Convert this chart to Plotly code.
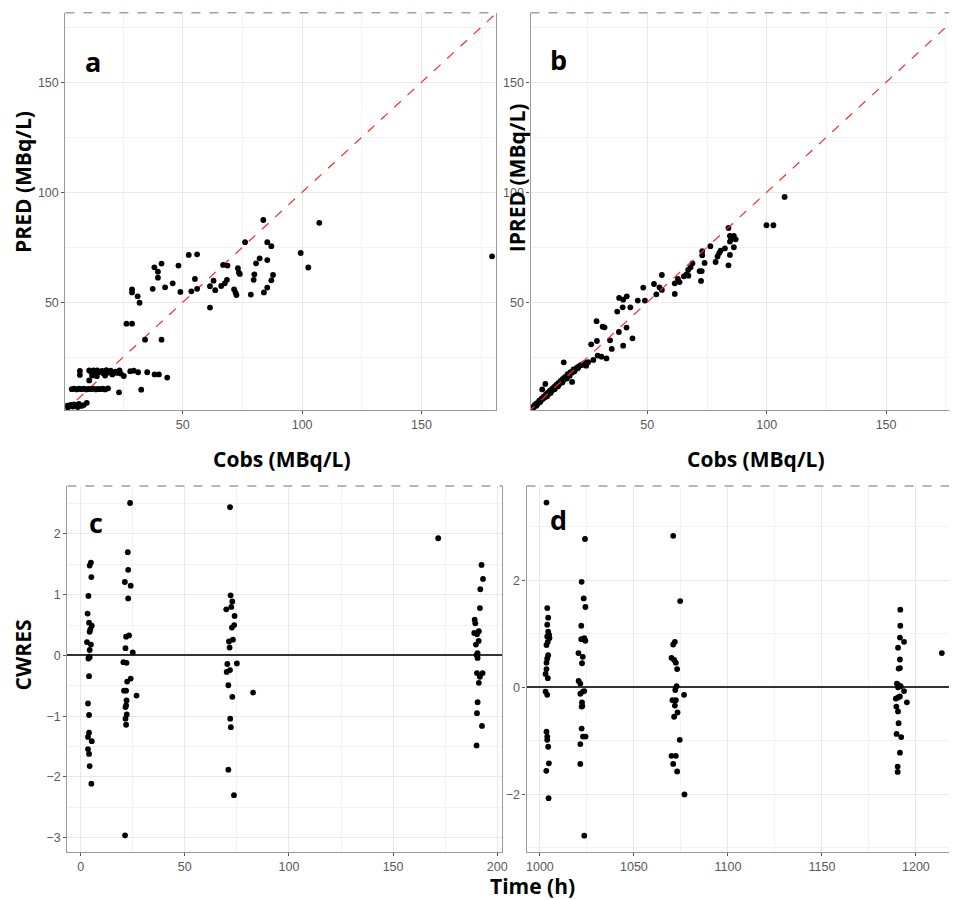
import plotly.graph_objects as go

# ---------------- data ----------------
# Panel a: observed vs population predicted
a_cobs = [83.75, 107.2, 76.1, 85.4, 87.1, 99.4, 52.5, 56.0, 82.2, 85.4, 80.7, 41.1, 38.1, 48.2,
          66.9, 68.75, 102.6, 73.1, 39.6, 73.5, 73.9, 39.6, 80.0, 87.8, 55.1, 62.9, 68.5, 79.7,
          87.1, 67.6, 45.8, 42.6, 66.1, 61.4, 37.4, 56.0, 63.6, 28.75, 28.75, 85.4, 71.5, 53.6,
          49.0, 72.1, 72.5, 78.5, 84.0, 31.1, 31.9, 61.4, 26.4, 28.75, 34.2, 41.1, 179.6,
          6.9, 6.9, 10.8, 11.5, 12.6, 13.2, 14.2, 15.0, 16.2, 16.8, 18.0, 18.5, 19.8, 20.5,
          21.8, 22.5, 23.5, 24.0, 25.3, 28.0, 29.5, 31.3, 35.1, 38.2, 40.0, 43.5, 12.0, 14.0,
          17.5, 10.8, 23.3, 32.6,
          3.5, 4.5, 5.5, 6.5, 7.5, 8.5, 9.5, 10.5, 11.5, 12.5, 13.5, 14.5, 15.5, 16.5, 17.5, 18.7,
          0.9, 1.5, 2.2, 3.0, 3.8, 4.5, 5.5, 6.5, 7.5, 8.5, 9.8, 2.0, 4.0, 6.0]
a_pred = [87.4, 86.1, 77.3, 77.3, 75.5, 72.4, 71.5, 71.8, 70.0, 69.2, 67.7, 67.6, 65.9, 66.7,
          67.0, 66.7, 65.8, 65.5, 63.9, 63.5, 62.9, 61.2, 62.7, 62.4, 60.6, 59.8, 60.2, 60.2,
          60.0, 58.6, 58.6, 56.8, 57.4, 57.3, 56.1, 56.1, 55.5, 55.8, 54.5, 56.7, 55.9, 55.0,
          54.7, 54.4, 53.3, 53.5, 54.5, 52.7, 49.8, 47.6, 40.3, 40.3, 33.0, 33.0, 70.9,
          18.8, 17.0, 19.0, 18.5, 19.0, 17.8, 19.0, 18.2, 18.8, 17.6, 19.2, 18.0, 18.9, 17.2,
          18.5, 17.9, 19.0, 17.6, 16.5, 18.7, 18.9, 18.2, 18.2, 17.2, 17.2, 15.8, 16.7, 16.4,
          16.7, 14.5, 9.1, 10.3,
          10.5, 10.8, 10.4, 10.7, 10.5, 10.8, 10.4, 10.6, 10.5, 10.8, 10.4, 10.6, 10.5, 10.7, 10.4, 10.9,
          2.6, 3.0, 2.7, 3.4, 3.0, 3.6, 3.1, 3.8, 2.9, 3.3, 4.3, 2.3, 2.6, 2.4]

# Panel b: observed vs individual predicted
b_cobs = [107.5, 99.9, 102.8, 84.0, 76.4, 73.0, 84.6, 86.25, 85.1, 87.0, 84.6, 86.25, 84.6, 84.0,
          82.5, 80.7, 80.1, 79.4, 78.6, 74.0, 73.0, 68.9, 68.1, 67.1, 66.3, 67.2, 65.3, 71.9,
          72.8, 72.5, 62.8, 63.5, 61.5, 61.5, 56.1, 55.1, 56.1, 52.8, 53.8, 48.3, 49.0, 46.0,
          38.2, 39.9, 41.4, 39.7, 42.9, 37.4, 38.1, 41.3, 39.9, 43.8, 28.75, 31.3, 32.1, 26.5,
          28.9, 34.4, 35.1, 27.4, 29.2, 30.8, 32.9, 15.0, 7.3, 18.5, 24.4, 6.0,
          1.2, 1.8, 2.3, 2.8, 3.2, 3.6, 4.0, 4.5, 4.9, 5.3, 5.8, 6.2, 6.6, 7.0, 7.5, 7.9, 8.3,
          8.8, 9.2, 9.6, 10.1, 10.5, 11.0, 11.4, 11.9, 12.3, 12.8, 13.2, 13.7, 14.1, 14.6, 15.1,
          15.5, 16.0, 16.6, 17.2, 17.8, 18.4, 19.1, 19.8, 20.5, 21.3, 22.1, 23.0, 24.0, 25.2,
          3.5, 5.0, 8.0, 9.5, 11.2, 12.6, 14.4, 16.3, 17.5, 19.4, 21.0, 22.6]
b_ipred = [97.9, 85.0, 85.0, 83.8, 75.5, 73.2, 80.2, 80.2, 78.6, 78.6, 77.6, 75.0, 71.5, 66.8,
           74.5, 73.5, 72.3, 70.8, 68.3, 67.9, 71.4, 67.7, 65.9, 64.7, 62.6, 62.1, 61.8, 64.2,
           64.2, 59.7, 60.6, 59.2, 58.6, 53.8, 62.4, 56.8, 55.6, 58.3, 53.6, 56.7, 50.8, 50.8,
           52.0, 51.2, 52.7, 47.7, 47.7, 45.8, 36.5, 38.5, 30.3, 33.6, 41.4, 38.9, 38.6, 30.9,
           32.4, 32.7, 28.8, 23.8, 25.8, 25.3, 24.5, 22.7, 12.9, 13.8, 21.2, 10.4,
           1.5, 2.2, 2.0, 3.3, 3.0, 4.1, 3.8, 4.9, 5.4, 5.0, 6.3, 6.0, 7.1, 6.7, 8.0, 7.6, 8.9,
           8.4, 9.8, 9.3, 10.6, 10.2, 11.5, 11.2, 12.5, 12.0, 13.4, 12.9, 14.3, 13.8, 15.2, 14.8,
           16.0, 15.7, 17.3, 16.9, 18.3, 18.0, 19.5, 19.2, 20.3, 20.9, 21.4, 21.9, 22.4, 22.8,
           3.0, 4.6, 7.3, 8.8, 10.5, 11.8, 13.6, 15.4, 16.6, 18.6, 20.1, 21.5]

# Panel c: CWRES vs time after first dose
c_time = [4.9, 4.3, 5.1, 3.7, 3.3, 4.0, 5.3, 4.6, 4.3, 3.0, 4.9, 4.3, 4.0, 3.7, 4.3, 4.0, 3.5,
          4.0, 4.0, 3.5, 5.3, 3.5, 4.0, 4.3, 5.1,
          23.7, 22.6, 22.8, 21.2, 24.0, 22.8, 21.8, 23.2, 21.5, 25.0, 20.5, 22.0, 24.0, 22.3,
          21.8, 20.8, 26.8, 22.0, 21.8, 21.5, 22.1, 21.5, 21.8, 21.3,
          71.7, 72.0, 72.8, 72.3, 69.9, 73.9, 73.7, 72.6, 73.1, 71.2, 71.5, 70.4, 75.0, 71.7,
          70.1, 70.9, 72.8, 71.8, 72.1, 70.9, 73.6, 82.8, 171.7,
          192.5, 193.2, 191.9, 191.7, 189.2, 189.5, 191.2, 189.0, 190.3, 191.1, 189.8, 190.6,
          190.1, 190.6, 190.3, 193.0, 191.7, 191.2, 190.6, 190.3, 192.7, 190.1]
c_cwres = [1.53, 1.48, 1.29, 0.98, 0.69, 0.54, 0.49, 0.43, 0.39, 0.22, 0.18, 0.09, -0.02, -0.05,
           -0.03, -0.34, -0.79, -0.98, -1.27, -1.34, -1.41, -1.54, -1.62, -1.82, -2.11,
           2.51, 1.70, 1.41, 1.21, 1.15, 0.94, 0.31, 0.33, 0.12, 0.05, -0.11, -0.12, -0.38, -0.43,
           -0.58, -0.58, -0.66, -0.74, -0.82, -0.85, -0.97, -1.04, -1.14, -2.96,
           2.44, 0.99, 0.89, 0.80, 0.76, 0.65, 0.50, 0.46, 0.26, 0.23, 0.13, -0.14, -0.13, -0.24,
           -0.27, -0.49, -0.68, -1.04, -1.18, -1.88, -2.30, -0.61, 1.93,
           1.49, 1.26, 1.09, 0.78, 0.59, 0.53, 0.40, 0.37, 0.35, 0.24, 0.18, 0.04,
           0.01, -0.04, -0.29, -0.29, -0.35, -0.45, -0.77, -0.95, -1.16, -1.48]

# Panel d: CWRES vs time after later dose
d_time = [1003.5, 1003.9, 1004.4, 1003.9, 1004.4, 1004.9, 1003.9, 1005.1, 1004.2, 1003.5, 1004.4,
          1003.9, 1003.5, 1003.5, 1003.0, 1004.2, 1003.0, 1003.9, 1003.5, 1003.9, 1003.9, 1004.4,
          1004.8, 1003.4, 1004.6,
          1024.0, 1022.2, 1023.3, 1024.2, 1022.0, 1022.0, 1023.6, 1024.2, 1020.5, 1022.8, 1022.4,
          1020.6, 1021.5, 1022.9, 1021.5, 1023.6, 1022.4, 1022.2, 1022.6, 1022.2, 1022.9, 1024.3,
          1021.5, 1021.5, 1023.6,
          1070.9, 1074.6, 1071.8, 1070.9, 1070.0, 1071.4, 1072.3, 1073.0, 1072.7, 1072.0, 1076.7,
          1070.5, 1072.3, 1071.8, 1073.2, 1071.4, 1074.4, 1070.0, 1072.3, 1070.9, 1073.0, 1076.9,
          1191.7, 1191.7, 1191.5, 1193.7, 1190.5, 1191.5, 1190.8, 1191.5, 1189.9, 1190.8, 1191.9,
          1190.5, 1193.7, 1191.5, 1189.3, 1190.5, 1195.2, 1189.6, 1190.5, 1190.8, 1189.7, 1192.2,
          1191.5, 1190.3, 1190.3, 1213.8]
d_cwres = [3.45, 1.48, 1.30, 1.17, 1.04, 0.98, 0.95, 0.92, 0.85, 0.79, 0.60, 0.54, 0.46, 0.34,
           0.25, 0.17, -0.08, -0.14, -0.83, -0.92, -0.98, -1.11, -1.42, -1.56, -2.07,
           2.77, 1.97, 1.66, 1.50, 1.15, 0.90, 0.92, 0.87, 0.64, 0.57, 0.45, 0.12, 0.07, -0.08,
           -0.12, -0.07, -0.28, -0.36, -0.35, -0.77, -0.92, -0.92, -1.06, -1.43, -2.77,
           2.83, 1.61, 0.85, 0.80, 0.55, 0.51, 0.46, 0.34, 0.02, -0.05, -0.14, -0.24, -0.24, -0.34,
           -0.47, -0.55, -0.98, -1.28, -1.28, -1.43, -1.57, -2.00,
           1.45, 1.15, 0.93, 0.85, 0.74, 0.52, 0.35, 0.36, 0.07, 0.04, 0.02, 0.00, -0.07, -0.17,
           -0.21, -0.19, -0.28, -0.36, -0.45, -0.67, -0.87, -0.93, -1.22, -1.48, -1.58, 0.64]

identity = [0, 200]

# ---------------- figure ----------------
# page body has an 8px default margin: size the figure to fit the 957x900 window
OFF = 8
W, H = 957 - OFF, 900 - OFF
def px(x):
    return (x - OFF) / W
def py(y):
    return 1 - (y - OFF) / H

fig = go.Figure()
mk = dict(color="black", size=5.8)
fig.add_trace(go.Scatter(x=identity, y=identity, mode="lines", xaxis="x", yaxis="y",
                         line=dict(color="#ff2a2a", width=1.2, dash="dash"), hoverinfo="skip"))
fig.add_trace(go.Scatter(x=a_cobs, y=a_pred, mode="markers", marker=mk, xaxis="x", yaxis="y"))
fig.add_trace(go.Scatter(x=b_cobs, y=b_ipred, mode="markers", marker=mk, xaxis="x2", yaxis="y2"))
fig.add_trace(go.Scatter(x=identity, y=identity, mode="lines", xaxis="x2", yaxis="y2",
                         line=dict(color="#ff2a2a", width=1.2, dash="dash"), hoverinfo="skip"))
fig.add_trace(go.Scatter(x=c_time, y=c_cwres, mode="markers", marker=mk, xaxis="x3", yaxis="y3"))
fig.add_trace(go.Scatter(x=d_time, y=d_cwres, mode="markers", marker=mk, xaxis="x4", yaxis="y4"))

tickfont = dict(family="Liberation Sans, Arial, sans-serif", size=12.5, color="#595959")
def ax(domain, rng, tickvals, anchor, minor_dtick, tick0=0, zeroline=False):
    return dict(domain=domain, range=rng, tickvals=tickvals, anchor=anchor,
                showgrid=True, gridcolor="#e8e8e8", gridwidth=1.1,
                zeroline=zeroline, zerolinecolor="#333333", zerolinewidth=1.6,
                showline=True, linecolor="#9a9a9a", linewidth=1.2,
                ticks="outside", ticklen=3, tickcolor="#555555", tickwidth=1,
                tickfont=tickfont,
                minor=dict(dtick=minor_dtick, tick0=tick0, showgrid=True,
                           gridcolor="#f2f2f2", gridwidth=0.7, ticks=""))

xa = [px(65.7), px(499)]
ya = [py(410), py(12.7)]
xb = [px(533.3), 1.0]
xc = [px(67.7), px(505)]
yc = [py(851.7), py(486)]
xd = [px(529.3), 1.0]

fig.update_layout(
    width=W, height=H, margin=dict(l=0, r=0, t=0, b=0),
    paper_bgcolor="white", plot_bgcolor="white", showlegend=False,
    xaxis=ax(xa, [0.83, 181.4], [50, 100, 150], "y", 25),
    yaxis=dict(ax(ya, [1.05, 181.6], [50, 100, 150], "x", 25), mirror=True),
    xaxis2=ax(xb, [1.1, 177.6], [50, 100, 150], "y2", 25),
    yaxis2=dict(ax(ya, [1.05, 181.6], [50, 100, 150], "x2", 25), mirror=True),
    xaxis3=ax(xc, [-6.4, 202.5], [0, 50, 100, 150, 200], "y3", 25),
    yaxis3=dict(ax(yc, [-3.23, 2.79], [-3, -2, -1, 0, 1, 2], "x3", 0.5, zeroline=True), mirror=True),
    xaxis4=ax(xd, [992.9, 1219.2], [1000, 1050, 1100, 1150, 1200], "y4", 25),
    yaxis4=dict(ax(yc, [-3.07, 3.76], [-2, 0, 2], "x4", 1, tick0=1, zeroline=True), mirror=True),
)

# dashed top borders
shapes = []
for (x0, x1), yy, col in [(xa, ya[1], "#8fae8f"), (xb, ya[1], "#8fae8f"),
                          (xc, yc[1], "#a0a0a0"), (xd, yc[1], "#a0a0a0")]:
    shapes.append(dict(type="line", xref="paper", yref="paper", x0=x0, x1=x1, y0=yy, y1=yy,
                       line=dict(color=col, width=1.4, dash="dash")))
fig.update_layout(shapes=shapes)

tfont = dict(family="Open Sans, sans-serif", size=21, color="black")
lfont = dict(family="Open Sans, sans-serif", size=27, color="black")
ann = [
    dict(text="<b>PRED (MBq/L)</b>", x=px(23), y=py(182), textangle=-90, font=tfont),
    dict(text="<b>IPRED (MBq/L)</b>", x=px(520), y=py(178), textangle=-90, font=tfont),
    dict(text="<b>Cobs (MBq/L)</b>", x=px(283), y=py(459), font=tfont),
    dict(text="<b>Cobs (MBq/L)</b>", x=px(760), y=py(459), font=tfont),
    dict(text="<b>CWRES</b>", x=px(23.5), y=py(655), textangle=-90, font=tfont),
    dict(text="<b>Time (h)</b>", x=px(535), y=py(886), font=tfont),
    dict(text="<b>a</b>", x=px(93), y=py(62), font=lfont),
    dict(text="<b>b</b>", x=px(561), y=py(60), font=lfont),
    dict(text="<b>c</b>", x=px(96), y=py(522), font=lfont),
    dict(text="<b>d</b>", x=px(561), y=py(519), font=lfont),
]
for a in ann:
    a.update(xref="paper", yref="paper", showarrow=False, xanchor="center", yanchor="middle")
fig.update_layout(annotations=ann)

fig.write_html("out.html")
